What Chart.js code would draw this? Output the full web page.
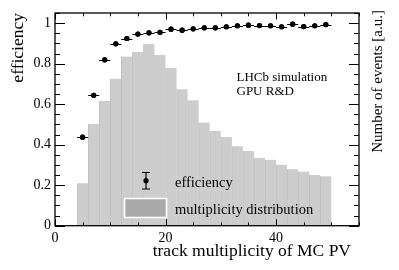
<!DOCTYPE html>
<html>
<head>
<meta charset="utf-8">
<script src="https://cdn.jsdelivr.net/npm/chart.js@4"></script>
<style>
  html, body { margin: 0; padding: 0; background: #ffffff; }
  canvas { display: block; }
</style>
</head>
<body>
<canvas id="c" width="399" height="270"></canvas>
<script>
// ---- data ----
const binCenters = [5, 7, 9, 11, 13, 15, 17, 19, 21, 23, 25, 27, 29, 31, 33, 35, 37, 39, 41, 43, 45, 47, 49];
const binHalfWidth = 1;
const multiplicityDistribution = [0.210, 0.502, 0.616, 0.726, 0.835, 0.858, 0.898, 0.843, 0.779, 0.674, 0.619, 0.509,
  0.468, 0.438, 0.392, 0.369, 0.336, 0.325, 0.301, 0.279, 0.267, 0.250, 0.244];
const efficiency = [0.437, 0.644, 0.819, 0.898, 0.924, 0.946, 0.952, 0.955, 0.970, 0.965, 0.972, 0.977,
  0.977, 0.982, 0.987, 0.990, 0.988, 0.987, 0.982, 0.995, 0.983, 0.987, 0.993];
const xTickLabels = [0, 20, 40];
const yTickLabels = [0, 0.2, 0.4, 0.6, 0.8, 1];
const xTitle = 'track multiplicity of MC PV';
const yTitle = 'efficiency';
const y2Title = 'Number of events [a.u.]';
const legendLabels = ['efficiency', 'multiplicity distribution'];
const annotationLines = ['LHCb simulation', 'GPU R&D'];

const SERIF = "'Liberation Serif', 'Times New Roman', serif";

const decorPlugin = {
  id: 'decor',
  afterDatasetsDraw(chart) {
    const ctx = chart.ctx;
    const xs = chart.scales.x, ys = chart.scales.y;
    const { left, right, top, bottom } = chart.chartArea;
    ctx.save();

    // horizontal error bars of the efficiency points
    ctx.strokeStyle = '#000';
    ctx.lineWidth = 1;
    binCenters.forEach((c, i) => {
      const py = Math.round(ys.getPixelForValue(efficiency[i])) + 0.5;
      ctx.beginPath();
      ctx.moveTo(xs.getPixelForValue(c - binHalfWidth), py);
      ctx.lineTo(xs.getPixelForValue(c + binHalfWidth), py);
      ctx.stroke();
    });
    // redraw markers on top
    ctx.fillStyle = '#000';
    binCenters.forEach((c, i) => {
      ctx.beginPath();
      ctx.arc(xs.getPixelForValue(c), ys.getPixelForValue(efficiency[i]), 2.6, 0, Math.PI * 2);
      ctx.fill();
    });

    // legend
    const lx = 146, ly = 180.7;
    ctx.lineWidth = 1.2;
    ctx.beginPath();
    ctx.moveTo(lx, 172.5); ctx.lineTo(lx, 189);
    ctx.moveTo(lx - 4, 172.5); ctx.lineTo(lx + 4, 172.5);
    ctx.moveTo(lx - 4, 189); ctx.lineTo(lx + 4, 189);
    ctx.stroke();
    ctx.beginPath();
    ctx.arc(lx, ly, 2.6, 0, Math.PI * 2);
    ctx.fill();
    ctx.fillStyle = '#a9a9a9';
    ctx.fillRect(124.5, 198.5, 42, 19);
    ctx.strokeStyle = '#ffffff';
    ctx.lineWidth = 1.6;
    ctx.strokeRect(124.5, 198.5, 42, 19);

    ctx.fillStyle = '#000';
    ctx.textBaseline = 'alphabetic';
    ctx.textAlign = 'left';
    ctx.font = '14.5px ' + SERIF;
    ctx.fillText(legendLabels[0], 175, 187);
    ctx.fillText(legendLabels[1], 175, 213.5);

    // annotation
    ctx.font = '13px ' + SERIF;
    ctx.fillText(annotationLines[0], 236.5, 81);
    ctx.fillText(annotationLines[1], 236.5, 94.5);

    // frame
    ctx.strokeStyle = '#000';
    ctx.lineWidth = 1.3;
    ctx.strokeRect(left, top, right - left, bottom - top);

    // ticks (inside)
    ctx.lineWidth = 1;
    ctx.beginPath();
    for (let v = 0; v <= xs.max + 1e-9; v += 5) {
      const px = Math.round(xs.getPixelForValue(v)) + 0.5;
      const len = xTickLabels.includes(v) ? 6.5 : 3.3;
      ctx.moveTo(px, bottom); ctx.lineTo(px, bottom - len);
      ctx.moveTo(px, top); ctx.lineTo(px, top + len);
    }
    for (let k = 0; k * 0.05 <= ys.max + 1e-9; k++) {
      const v = k * 0.05;
      const py = Math.round(ys.getPixelForValue(v)) + 0.5;
      const len = (k % 4 === 0) ? 10 : 5;
      ctx.moveTo(left, py); ctx.lineTo(left + len, py);
      ctx.moveTo(right, py); ctx.lineTo(right - len, py);
    }
    ctx.stroke();

    // axis titles
    ctx.font = '17.5px ' + SERIF;
    ctx.textAlign = 'right';
    ctx.fillText(xTitle, 351, 255.5);

    ctx.save();
    ctx.translate(22.5, top);
    ctx.rotate(-Math.PI / 2);
    ctx.textAlign = 'right';
    ctx.fillText(yTitle, 0, 0);
    ctx.restore();

    ctx.save();
    ctx.font = '15px ' + SERIF;
    ctx.translate(382, 10);
    ctx.rotate(-Math.PI / 2);
    ctx.textAlign = 'right';
    ctx.fillText(y2Title, 0, 0);
    ctx.restore();

    ctx.restore();
  }
};

new Chart(document.getElementById('c'), {
  type: 'bar',
  data: {
    datasets: [
      {
        type: 'scatter',
        label: legendLabels[0],
        data: binCenters.map((x, i) => ({ x: x, y: efficiency[i] })),
        pointRadius: 2.6,
        pointBackgroundColor: '#000',
        pointBorderWidth: 0,
        order: 1
      },
      {
        type: 'bar',
        label: legendLabels[1],
        data: binCenters.map((x, i) => ({ x: x, y: multiplicityDistribution[i] })),
        backgroundColor: '#cdcdcd',
        borderColor: '#c1c1c1',
        borderWidth: { left: 1, top: 0, right: 0, bottom: 0 },
        borderSkipped: false,
        barPercentage: 1,
        categoryPercentage: 1,
        grouped: false,
        order: 2
      }
    ]
  },
  options: {
    responsive: false,
    animation: false,
    layout: { padding: { top: 13, left: 0, right: 0, bottom: 0 } },
    plugins: { legend: { display: false }, tooltip: { enabled: false } },
    scales: {
      x: {
        type: 'linear',
        offset: false,
        min: 0, max: 55,
        grid: { display: false, drawTicks: false, offset: false },
        border: { display: false },
        afterBuildTicks: s => { s.ticks = xTickLabels.map(v => ({ value: v })); },
        afterFit: s => { s.height = 44.3; },
        ticks: {
          padding: 4,
          maxRotation: 0,
          color: '#000',
          font: { family: SERIF, size: 14 },
          callback: v => String(v)
        }
      },
      y: {
        type: 'linear',
        position: 'left',
        min: 0, max: 1.05,
        grid: { display: false, drawTicks: false },
        border: { display: false },
        afterBuildTicks: s => { s.ticks = yTickLabels.map(v => ({ value: v })); },
        afterFit: s => { s.width = 55; },
        ticks: {
          padding: 4,
          color: '#000',
          font: { family: SERIF, size: 14 },
          callback: v => String(v)
        }
      },
      y2: {
        type: 'linear',
        position: 'right',
        min: 0, max: 1.05,
        grid: { display: false, drawTicks: false },
        border: { display: false },
        ticks: { display: false },
        afterFit: s => { s.width = 40; }
      }
    }
  },
  plugins: [decorPlugin]
});
</script>
</body>
</html>
